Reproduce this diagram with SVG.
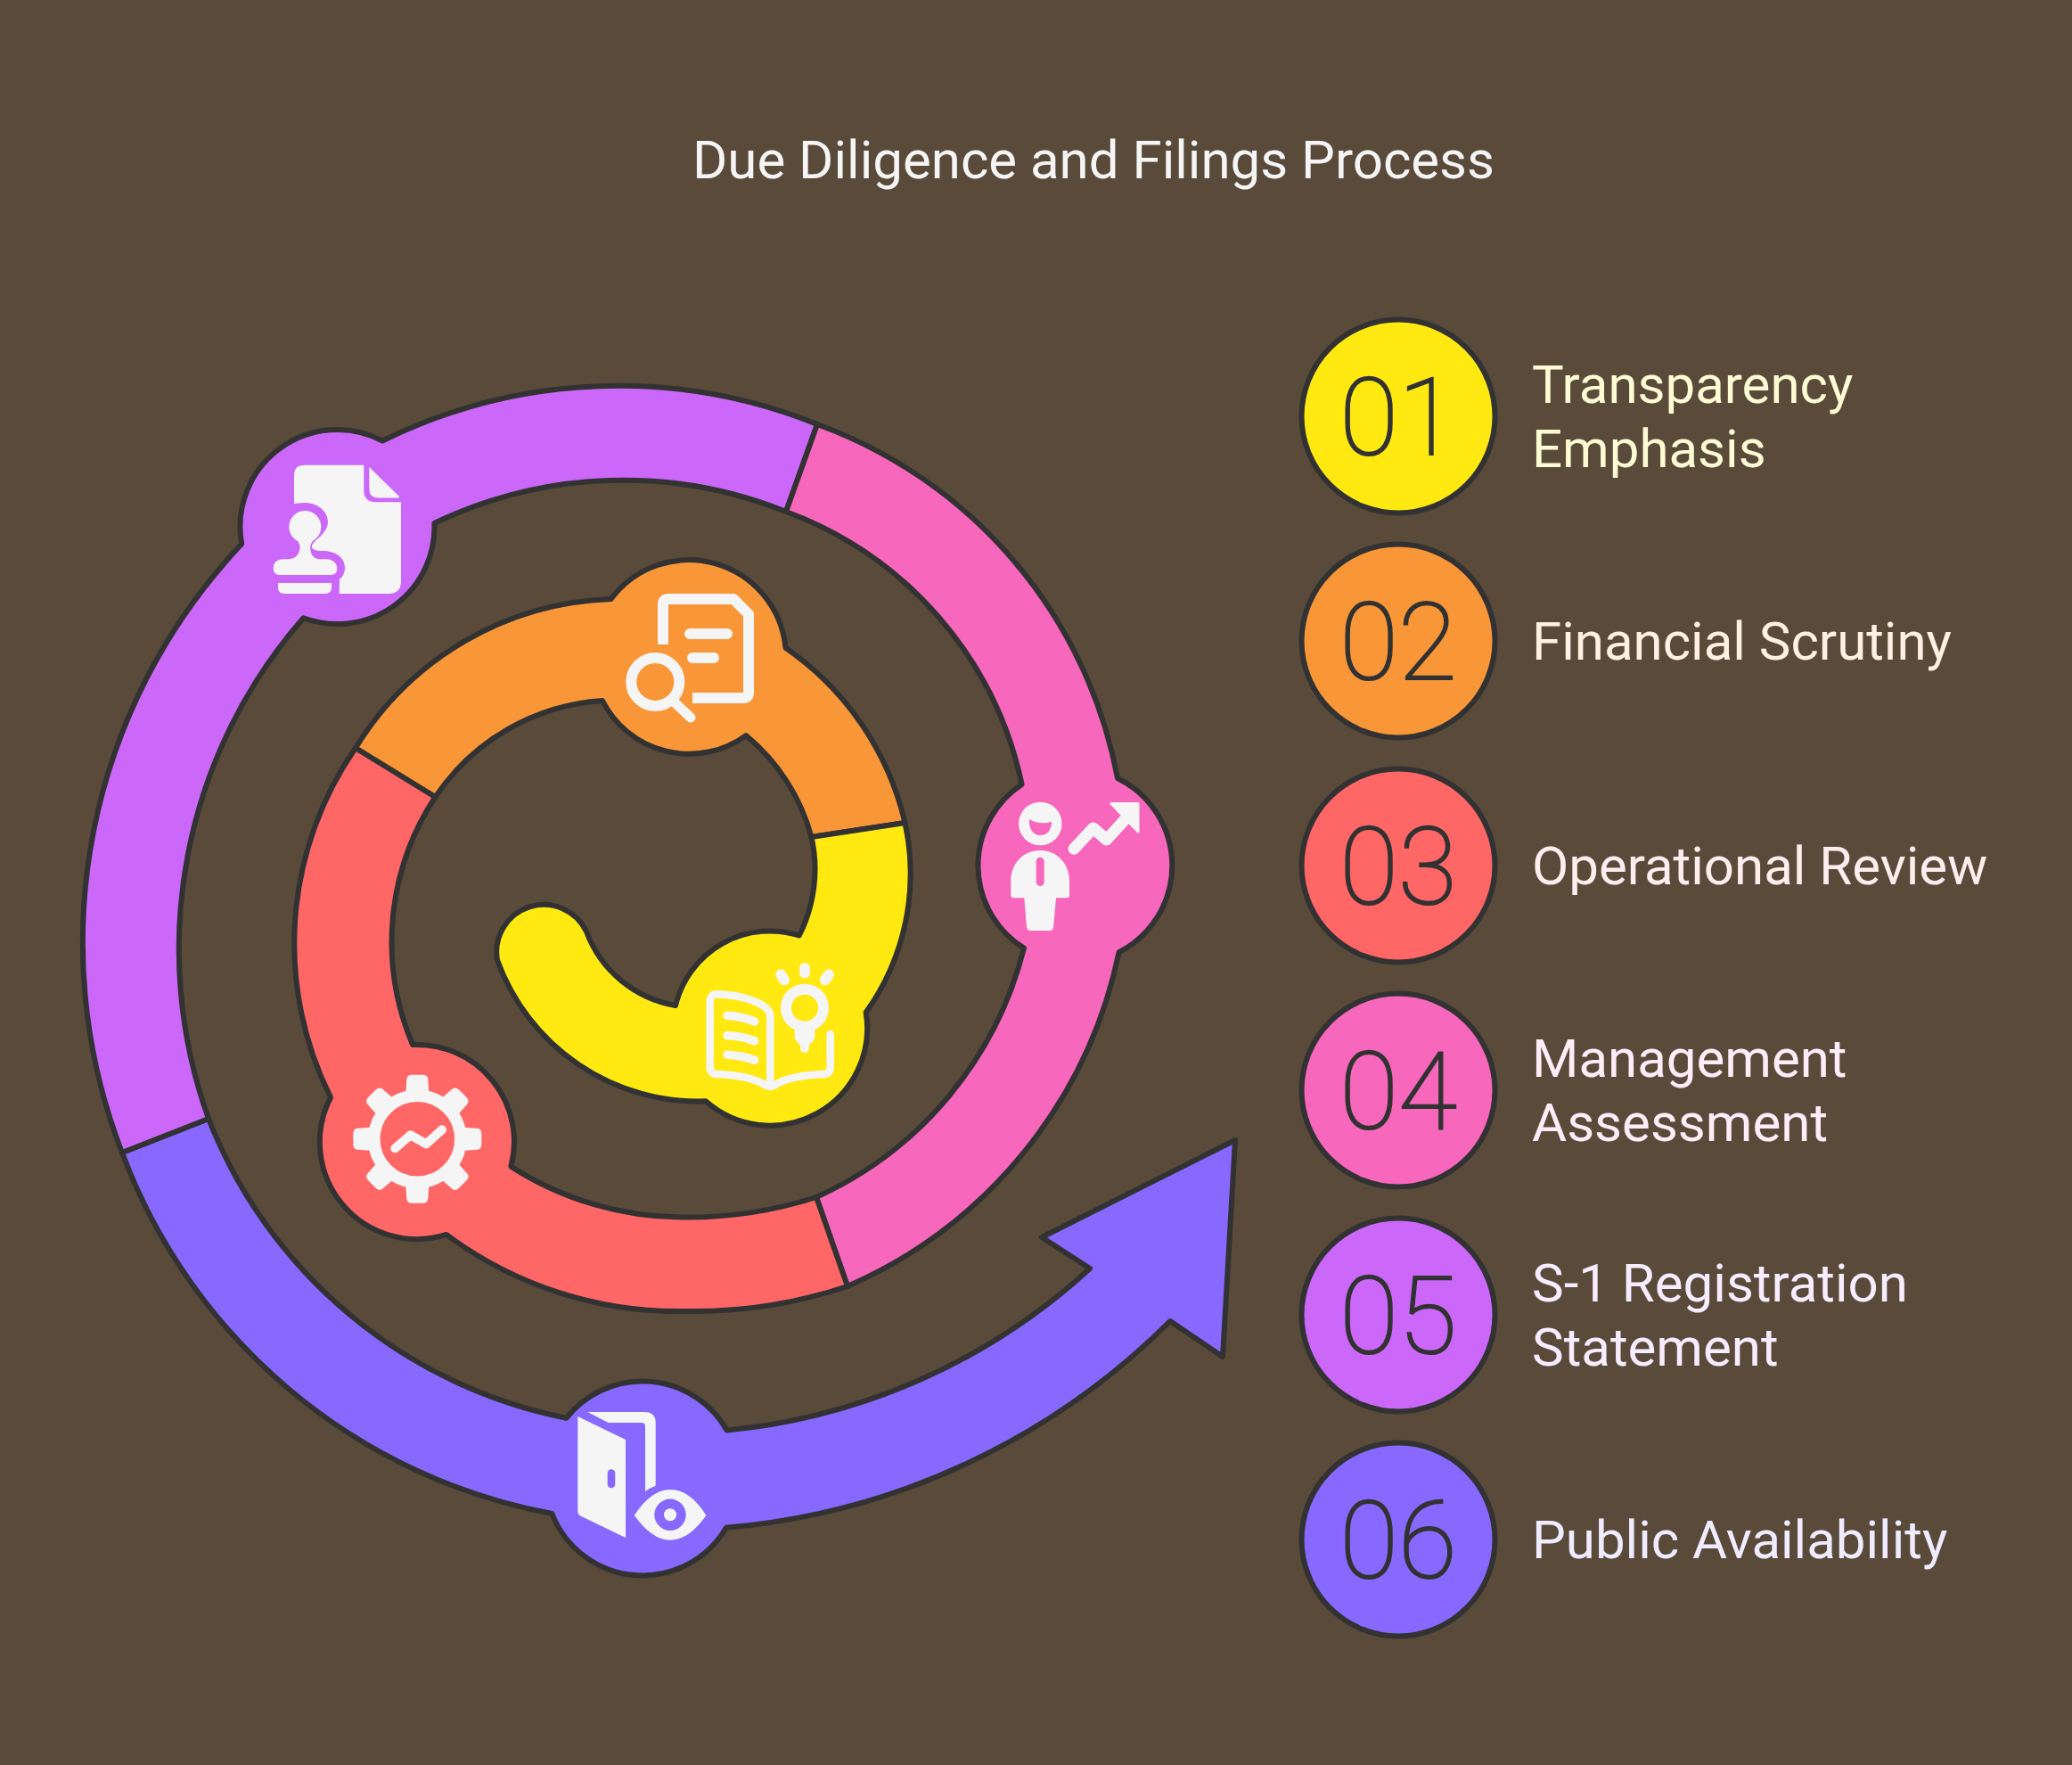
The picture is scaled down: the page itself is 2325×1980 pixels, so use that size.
<svg xmlns="http://www.w3.org/2000/svg" width="2325" height="1980" viewBox="0 0 2325 1980">
<style>
.seg,.dot{stroke:#323232;stroke-width:6;stroke-linejoin:round}
.ic{fill:#f5f5f5}
.ln{fill:none;stroke:#f5f5f5;stroke-linecap:round;stroke-linejoin:round}
.num{font-family:Roboto,"Liberation Sans",sans-serif;font-weight:100;font-size:120px;fill:#323232;stroke:#323232;stroke-width:2.2px;text-anchor:middle}
.lab{font-family:Roboto,"Liberation Sans",sans-serif;font-size:60px}
.title{font-family:Roboto,"Liberation Sans",sans-serif;font-size:60px;fill:#f5f5f5;text-anchor:middle}
.yel{fill:#ffe911}.ora{fill:#f99637}.red{fill:#ff6666}.pin{fill:#f767bb}.pur{fill:#cb68fa}.ind{fill:#8769ff}
</style>
<defs>
<path id="tooth" d="M-13,-52 L-12,-67 Q-11.5,-72 -6,-72 H6 Q11.5,-72 12,-67 L13,-52 Z" fill="#f5f5f5"/>
</defs>
<rect width="2325" height="1980" fill="#5a4a3a"/>
<text class="title" x="1227" y="200">Due Diligence and Filings Process</text>

<g id="node-06">
<path class="seg ind" d="M137,1293 A640,640 0 0 0 619.4,1698 A109,109 0 0 0 814.9,1713.7 A800,800 0 0 0 1313,1482 L1372,1522 L1386,1279 L1169,1388 L1223,1423 A700,700 0 0 1 815.7,1604.5 A109,109 0 0 0 635.5,1590.8 A545,545 0 0 1 234,1255 Z"/>
<path class="ic" d="M648.3,1589 L702,1615 V1725 L651.7,1700.7 Q648.3,1699 648.3,1695 Z"/>
<rect class="ind" x="681.7" y="1648.3" width="8.6" height="21" rx="4.3"/>
<path class="ic" d="M659.3,1584 H723.3 Q735.7,1584 735.7,1596 V1666.7 Q729,1669 724,1673.3 V1600 Q724,1596 720,1596 H682.7 Z"/>
<path class="ic" d="M711.7,1700 C725,1680 738,1671 752,1671 C766,1671 780,1680 792.3,1700 C780,1718 766,1727.7 752,1727.7 C738,1727.7 725,1718 711.7,1700 Z"/>
<circle class="ind" cx="752" cy="1699.3" r="17.7"/>
<circle class="ic" cx="752" cy="1699.3" r="7"/>
<circle class="dot ind" cx="1569" cy="1727" r="108.5"/>
<text class="num" x="1569" y="1770">06</text>
<text class="lab" x="1719" y="1748" fill="#f0ecff">Public Availability</text>
</g>

<g id="node-05">
<path class="seg pur" d="M917,476 A598,598 0 0 0 429.3,494.5 A109,109 0 0 0 271.2,610.3 A650,650 0 0 0 137,1293 L234,1255 A563,563 0 0 1 340.5,693.2 A109,109 0 0 0 487.4,586.9 A490,490 0 0 1 882,574 Z"/>
<path class="ic" d="M330,565 V533 Q330,521.7 342,521.7 H408.3 V550 Q408.3,563.3 422,563.3 H450 V652 Q450,666 436,666 H380.7 L381,650 Q387,645 387,637 C387,625 376,618 362,618 Q349,618 350,612 Q352,608 358,603 Q368,594 368,586 C368,572 354,563 340,564 Z"/>
<path class="ic" d="M414.3,524 L448,557 Q448.5,558.5 446,558.5 H424 Q414.3,558.5 414.3,548 Z"/>
<circle class="ic" cx="342.3" cy="591" r="18"/>
<path class="ic" d="M331.7,602 C334,608 337,610 336.7,615 Q335,626 325,627.3 H318 Q306.7,628 306.7,637 Q306.7,645 314,645 H371 Q378.3,645 378.3,637 Q377,627.3 365,627.3 H358 Q348,626 348.3,614 C348,610 351,608 353,602 Z"/>
<path class="ic" d="M312,654 H372 V659 Q372,666 365,666 H319 Q312,666 312,659 Z"/>
<circle class="dot pur" cx="1569" cy="1475" r="108.5"/>
<text class="num" x="1569" y="1518">05</text>
<text class="lab" x="1719" y="1460" fill="#f8ecff">S-1 Registration</text>
<text class="lab" x="1719" y="1532" fill="#f8ecff">Statement</text>
</g>

<g id="node-04">
<path class="seg pin" d="M917,476 A525,525 0 0 1 1254,873 A109,109 0 0 1 1255.6,1068.2 A525,525 0 0 1 951,1443 L916,1343 A418,418 0 0 0 1149,1063.6 A109,109 0 0 1 1146.6,879.9 A418,418 0 0 0 882,574 Z"/>
<circle class="ic" cx="1167.3" cy="924" r="24.3"/>
<path class="pin" d="M1155,919 Q1167,926 1180,921.7 C1180,931 1175,937 1167,937 C1159,937 1154,929 1155,919 Z"/>
<path class="ic" d="M1167.3,954 C1147,954 1134.3,970 1134.3,988 V1004 Q1134.3,1007.3 1138,1007.3 H1149.3 L1152,1040 Q1152.7,1044 1156,1044 H1178 Q1181.7,1044 1182,1040 L1185,1007.3 H1197 Q1200,1007.3 1200,1004 V988 C1200,970 1187,954 1167.3,954 Z"/>
<rect class="pin" x="1162.7" y="961.7" width="9" height="32.3" rx="4.5"/>
<path class="ln" stroke-width="13" d="M1205,952.3 L1226.7,929 L1241.7,942 L1268,913"/>
<path class="ic" stroke="#f5f5f5" stroke-width="3" stroke-linejoin="round" d="M1247,901.5 H1277 V933 Z"/>
<circle class="dot pin" cx="1569" cy="1223" r="108.5"/>
<text class="num" x="1569" y="1266">04</text>
<text class="lab" x="1719" y="1208" fill="#ffeef8">Management</text>
<text class="lab" x="1719" y="1280" fill="#ffeef8">Assessment</text>
</g>

<g id="node-03">
<path class="seg red" d="M399,839 A385,385 0 0 0 371,1231 A109,109 0 0 0 500.9,1384.9 A435,435 0 0 0 766.6,1471 A550,550 0 0 0 951,1443 L916,1343 A475,475 0 0 1 766.6,1365.6 A360,360 0 0 1 573.4,1308.6 A109,109 0 0 0 463,1172 A295,295 0 0 1 488.5,894 Z"/>
<circle class="ln" stroke-width="13.5" cx="468.3" cy="1277.7" r="48.5"/>
<g transform="translate(468.3,1277.7)">
<use href="#tooth"/><use href="#tooth" transform="rotate(45)"/><use href="#tooth" transform="rotate(90)"/><use href="#tooth" transform="rotate(135)"/><use href="#tooth" transform="rotate(180)"/><use href="#tooth" transform="rotate(225)"/><use href="#tooth" transform="rotate(270)"/><use href="#tooth" transform="rotate(315)"/>
</g>
<path class="ln" stroke-width="10" d="M443.3,1288.3 L460.7,1273.3 L478.3,1283.3 L496,1267.3"/>
<circle class="dot red" cx="1569" cy="971" r="108.5"/>
<text class="num" x="1569" y="1014">03</text>
<text class="lab" x="1719" y="992" fill="#ffeeee">Operational Review</text>
</g>

<g id="node-02">
<path class="seg ora" d="M399,839 A350,350 0 0 1 685.6,672 A109,109 0 0 1 881.5,726.7 A330,330 0 0 1 1015.5,923 L910.5,939 A222,222 0 0 0 837.1,825.1 A109,109 0 0 1 676,786 A245,245 0 0 0 488.5,894 Z"/>
<path class="ln" style="stroke-linecap:butt" stroke-width="12" d="M744,723 V678 Q744,672 750,672 H823 L840,689 V777 Q840,783 834,783 H777"/>
<path class="ln" stroke-width="12" d="M774,711 H816 M777,738 H801"/>
<circle class="ln" stroke-width="12" cx="735.3" cy="765" r="27"/>
<path class="ln" stroke-width="11" d="M757,788 L775,805"/>
<circle class="dot ora" cx="1569" cy="719" r="108.5"/>
<text class="num" x="1569" y="762">02</text>
<text class="lab" x="1719" y="740" fill="#fff2e4">Financial Scrutiny</text>
</g>

<g id="node-01">
<path class="seg yel" d="M1015.5,923 A267,267 0 0 1 971.6,1135.7 A109,109 0 0 1 791.9,1235.3 A240,240 0 0 1 558,1077 A53,53 0 0 1 658,1045 A130,130 0 0 0 758,1128 A109,109 0 0 1 896.8,1049.5 A165,165 0 0 0 910.5,939 Z"/>
<path class="ln" stroke-width="8.5" d="M864.3,1212 V1140 C864,1125 830,1116 805,1115.3 Q796.7,1115 796.7,1124 V1197 Q796.7,1205 805,1205 C830,1206 848,1210 860,1218 Q864,1220 868,1218 C880,1210 900,1206 924,1205 Q931.7,1205 931.7,1197 V1160"/>
<path class="ln" stroke-width="9.5" d="M816,1139.3 Q832,1140 846.7,1146 M816,1161.7 Q832,1162 846.7,1167.7 M816,1183.3 Q832,1184 846.7,1189.3"/>
<circle class="ln" stroke-width="12" cx="903" cy="1130.7" r="21"/>
<path class="ic" d="M891.7,1152 V1165 L898,1173 V1176 Q898,1180.7 903,1180.7 Q907.7,1180.7 907.7,1176 V1173 L914.3,1165 V1152 Z"/>
<path class="ln" stroke-width="12" d="M903,1086 V1091.5 M876.3,1093.3 L880,1099.3 M930,1093.3 L925.7,1099.3"/>
<circle class="dot yel" cx="1569" cy="467" r="108.5"/>
<text class="num" x="1569" y="510">01</text>
<text class="lab" x="1719" y="452" fill="#fffbd4">Transparency</text>
<text class="lab" x="1719" y="524" fill="#fffbd4">Emphasis</text>
</g>
</svg>
